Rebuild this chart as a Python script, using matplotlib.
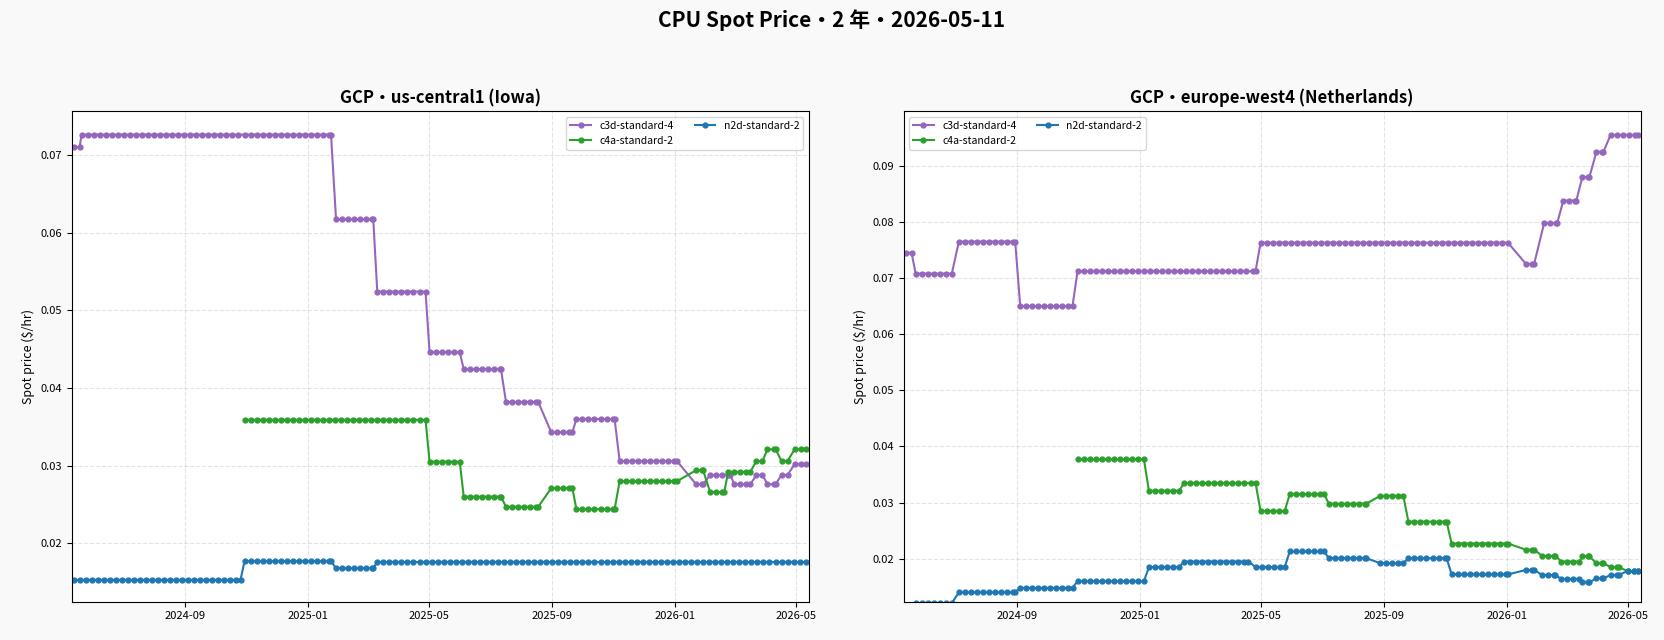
import numpy as np
import pandas as pd
import matplotlib
matplotlib.use("Agg")
import matplotlib.pyplot as plt
import matplotlib.dates as mdates

plt.rcParams['font.family'] = ['Noto Sans CJK JP', 'DejaVu Sans']

# each series: (start, end, price) steps
us_c3d = [("2024-05-13", "2024-05-19", 0.0710), ("2024-05-21", "2025-01-24", 0.0726),
          ("2025-01-29", "2025-03-07", 0.0617), ("2025-03-11", "2025-04-28", 0.0524),
          ("2025-05-02", "2025-06-01", 0.0446), ("2025-06-05", "2025-07-12", 0.0424),
          ("2025-07-17", "2025-08-18", 0.0382), ("2025-08-31", "2025-09-21", 0.0343),
          ("2025-09-25", "2025-11-02", 0.0360), ("2025-11-07", "2026-01-03", 0.0306),
          ("2026-01-22", "2026-01-29", 0.0276), ("2026-02-05", "2026-02-25", 0.0288),
          ("2026-03-01", "2026-03-17", 0.0276), ("2026-03-23", "2026-03-29", 0.0288),
          ("2026-04-03", "2026-04-11", 0.0276), ("2026-04-17", "2026-04-23", 0.0288),
          ("2026-04-30", "2026-05-11", 0.0302)]
us_c4a = [("2024-10-30", "2025-04-28", 0.0359), ("2025-05-02", "2025-06-01", 0.0305),
          ("2025-06-05", "2025-07-12", 0.0260), ("2025-07-17", "2025-08-18", 0.0247),
          ("2025-08-31", "2025-09-21", 0.0271), ("2025-09-25", "2025-11-02", 0.0244),
          ("2025-11-07", "2026-01-03", 0.0280), ("2026-01-22", "2026-01-29", 0.0294),
          ("2026-02-05", "2026-02-19", 0.0266), ("2026-02-23", "2026-03-17", 0.0292),
          ("2026-03-23", "2026-03-29", 0.0306), ("2026-04-03", "2026-04-11", 0.0321),
          ("2026-04-17", "2026-04-23", 0.0306), ("2026-04-30", "2026-05-11", 0.0321)]
us_n2d = [("2024-05-13", "2024-10-26", 0.0153), ("2024-10-30", "2025-01-24", 0.0177),
          ("2025-01-29", "2025-03-07", 0.0168), ("2025-03-11", "2026-05-11", 0.0176)]

eu_c3d = [("2024-05-13", "2024-05-19", 0.0745), ("2024-05-23", "2024-06-28", 0.0708),
          ("2024-07-05", "2024-08-30", 0.0765), ("2024-09-04", "2024-10-26", 0.0650),
          ("2024-10-31", "2025-04-26", 0.0712), ("2025-05-01", "2026-01-02", 0.0763),
          ("2026-01-20", "2026-01-28", 0.0725), ("2026-02-07", "2026-02-20", 0.0798),
          ("2026-02-26", "2026-03-11", 0.0838), ("2026-03-17", "2026-03-24", 0.0880),
          ("2026-03-31", "2026-04-07", 0.0925), ("2026-04-14", "2026-05-11", 0.0955)]
eu_c4a = [("2024-10-31", "2025-01-05", 0.0377), ("2025-01-10", "2025-02-09", 0.0321),
          ("2025-02-14", "2025-04-26", 0.0335), ("2025-05-01", "2025-05-25", 0.0285),
          ("2025-05-30", "2025-07-03", 0.0315), ("2025-07-08", "2025-08-14", 0.0298),
          ("2025-08-28", "2025-09-20", 0.0312), ("2025-09-25", "2025-11-02", 0.0266),
          ("2025-11-07", "2026-01-02", 0.0227), ("2026-01-20", "2026-01-28", 0.0216),
          ("2026-02-05", "2026-02-18", 0.0205), ("2026-02-24", "2026-03-14", 0.0195),
          ("2026-03-17", "2026-03-24", 0.0204), ("2026-03-31", "2026-04-07", 0.0192),
          ("2026-04-14", "2026-04-22", 0.0185), ("2026-05-01", "2026-05-11", 0.0178)]
eu_n2d = [("2024-05-13", "2024-05-19", 0.0116), ("2024-05-23", "2024-06-28", 0.0121),
          ("2024-07-05", "2024-08-30", 0.0140), ("2024-09-04", "2024-10-26", 0.0148),
          ("2024-10-31", "2025-01-05", 0.0160), ("2025-01-10", "2025-02-09", 0.0185),
          ("2025-02-14", "2025-04-19", 0.0195), ("2025-04-26", "2025-05-25", 0.0185),
          ("2025-05-30", "2025-07-03", 0.0213), ("2025-07-08", "2025-08-14", 0.0201),
          ("2025-08-28", "2025-09-20", 0.0192), ("2025-09-25", "2025-11-02", 0.0201),
          ("2025-11-07", "2026-01-02", 0.0172), ("2026-01-20", "2026-01-28", 0.0180),
          ("2026-02-05", "2026-02-18", 0.0171), ("2026-02-24", "2026-03-14", 0.0164),
          ("2026-03-17", "2026-03-24", 0.0158), ("2026-03-31", "2026-04-07", 0.0165),
          ("2026-04-14", "2026-04-22", 0.0171), ("2026-05-01", "2026-05-11", 0.0178)]

COLORS = {"c3d-standard-4": "#9467bd", "c4a-standard-2": "#2ca02c", "n2d-standard-2": "#1f77b4"}


def expand(steps):
    xs, ys = [], []
    for s, e, v in steps:
        d = pd.date_range(s, e, freq="6D")
        if d[-1] != pd.Timestamp(e):
            d = d.append(pd.DatetimeIndex([e]))
        xs.extend(d)
        ys.extend([v] * len(d))
    return xs, ys


panels = [
    ("GCP・us-central1 (Iowa)", [("c3d-standard-4", us_c3d), ("c4a-standard-2", us_c4a), ("n2d-standard-2", us_n2d)],
     (0.0125, 0.0756), "upper right"),
    ("GCP・europe-west4 (Netherlands)", [("c3d-standard-4", eu_c3d), ("c4a-standard-2", eu_c4a), ("n2d-standard-2", eu_n2d)],
     (0.01236, 0.0997), "upper left"),
]

fig = plt.figure(figsize=(16.64, 6.4), dpi=100, facecolor="#f9f9f9")
positions = [[0.043, 0.06, 0.443, 0.766], [0.543, 0.06, 0.443, 0.766]]
for pos, (title, series, ylim, loc) in zip(positions, panels):
    ax = fig.add_axes(pos)
    for name, steps in series:
        xs, ys = expand(steps)
        ax.plot(xs, ys, marker="o", markersize=3.5, linewidth=1.5, color=COLORS[name], label=name)
    ax.set_title(title, fontsize=12, fontweight="bold")
    ax.set_ylabel("Spot price ($/hr)", fontsize=9)
    ax.set_ylim(*ylim)
    ax.set_xlim(pd.Timestamp("2024-05-11"), pd.Timestamp("2026-05-14"))
    ax.xaxis.set_major_locator(mdates.MonthLocator(bymonth=[1, 5, 9]))
    ax.xaxis.set_major_formatter(mdates.DateFormatter("%Y-%m"))
    ax.tick_params(labelsize=8)
    ax.grid(True, linestyle="--", alpha=0.35)
    ax.legend(loc=loc, ncol=2, fontsize=7.5)

fig.suptitle("CPU Spot Price・2 年・2026-05-11", fontsize=15, fontweight="bold", y=0.985)
fig.savefig("out.png", dpi=100, facecolor=fig.get_facecolor())
